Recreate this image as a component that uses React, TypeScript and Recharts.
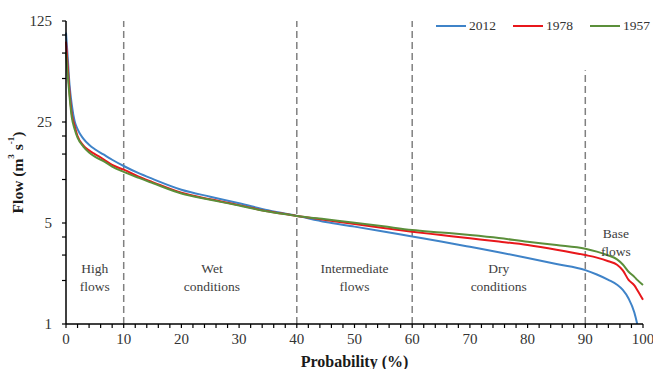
import React from "react";
import {
  LineChart,
  Line,
  XAxis,
  YAxis,
  ReferenceLine,
  ReferenceDot,
  Legend,
} from "recharts";

// exceedance probability (%) for each sampled point of the curves
const probability = [
  0, 0.3, 0.6, 1, 1.5, 2, 3, 4, 5, 6.5, 8, 10, 12.5, 15, 20, 25, 30, 35, 40, 45,
  50, 55, 60, 65, 70, 75, 80, 85, 90, 92, 94, 95.5, 96.5, 97.5, 98.5, 99, 100,
];

// flow (m3/s) for each year
const flow2012 = [
  104, 70, 46, 33, 25.3, 22.3, 19.2, 17.4, 16.2, 14.9, 13.7, 12.4, 11.1, 10.1,
  8.5, 7.6, 6.85, 6.12, 5.6, 5.08, 4.72, 4.37, 4.03, 3.72, 3.42, 3.14, 2.86, 2.6,
  2.36, 2.2, 2.02, 1.87, 1.72, 1.5, 1.2, 1.0, null,
];
const flow1978 = [
  90, 60, 41, 28.5, 23.5, 20, 17.2, 15.9, 15.0, 13.8, 12.6, 11.7, 10.5, 9.6, 8.1,
  7.3, 6.65, 6.02, 5.6, 5.25, 4.92, 4.62, 4.35, 4.13, 3.92, 3.72, 3.52, 3.27, 3.0,
  2.88, 2.72, 2.57, 2.35, 2.02, 1.85, 1.72, 1.47,
];
const flow1957 = [
  76, 53, 38, 27, 22.3, 19.5, 16.9, 15.4, 14.4, 13.4, 12.3, 11.3, 10.3, 9.45, 8.0,
  7.25, 6.6, 6.0, 5.6, 5.3, 5.02, 4.74, 4.47, 4.3, 4.13, 3.94, 3.71, 3.52, 3.32,
  3.17, 2.98, 2.8, 2.58, 2.3, 2.12, 2.02, 1.86,
];

const seriesOrder = ["2012", "1978", "1957"];

const xTicks = [
  0, 2, 4, 6, 8, 10, 12, 14, 16, 18, 20, 22, 24, 26, 28, 30, 32, 34, 36, 38, 40,
  42, 44, 46, 48, 50, 52, 54, 56, 58, 60, 62, 64, 66, 68, 70, 72, 74, 76, 78, 80,
  82, 84, 86, 88, 90, 92, 94, 96, 98, 100,
];
const yTicks = [1, 2, 3, 4, 5, 10, 15, 20, 25, 50, 75, 100, 125];
const yLabelled = [1, 5, 25, 125];

// flow regimes: label lines and where they sit on the plot
const regimes = [
  { lines: ["High", "flows"], x: 5, y: 2.11 },
  { lines: ["Wet", "conditions"], x: 25.3, y: 2.11 },
  { lines: ["Intermediate", "flows"], x: 50, y: 2.11 },
  { lines: ["Dry", "conditions"], x: 75, y: 2.11 },
  { lines: ["Base", "flows"], x: 95.3, y: 3.7 },
];

const data = probability.map((p, i) => ({
  p,
  y2012: flow2012[i],
  y1978: flow1978[i],
  y1957: flow1957[i],
}));

const FONT = '"Liberation Serif", "DejaVu Serif", serif';

function RegimeLabel(props: any) {
  const { cx, cy, lines } = props;
  return (
    <text x={cx} y={cy} textAnchor="middle" fontSize={13.5} fill="#404040">
      {lines.map((l: string, i: number) => (
        <tspan key={i} x={cx} dy={i === 0 ? -4 : 18}>
          {l}
        </tspan>
      ))}
    </text>
  );
}

function FlowTitle(props: any) {
  const vb = props.viewBox;
  const cx = vb.x + 17;
  const cy = vb.y + vb.height / 2;
  return (
    <text
      x={cx}
      y={cy}
      transform={`rotate(-90, ${cx}, ${cy})`}
      textAnchor="middle"
      dominantBaseline="central"
      fontWeight="bold"
      fontSize={15.5}
      fill="#1a1a1a"
    >
      Flow (m
      <tspan fontSize={9} dy={-6}>3</tspan>
      <tspan dy={6}> s</tspan>
      <tspan fontSize={9} dy={-6}>-1</tspan>
      <tspan dy={6}>)</tspan>
    </text>
  );
}

function LegendRow(props: any) {
  const items = [...(props.payload || [])].sort(
    (a: any, b: any) =>
      seriesOrder.indexOf(String(a.value)) - seriesOrder.indexOf(String(b.value))
  );
  return (
    <div style={{ display: "flex", alignItems: "center", fontFamily: FONT }}>
      {items.map((item: any) => (
        <div
          key={item.value}
          style={{ display: "flex", alignItems: "center", marginRight: 17 }}
        >
          <div style={{ width: 30, height: 2, background: item.color }} />
          <span style={{ marginLeft: 3, fontSize: 13.5, color: "#333" }}>
            {item.value}
          </span>
        </div>
      ))}
    </div>
  );
}

export default function App() {
  const tickStyle = { fontSize: 15, fill: "#333" };
  return (
    <div style={{ width: 653, height: 369, background: "#fff", fontFamily: FONT }}>
      <style>{`body { margin: 0; } svg text { font-family: ${FONT} !important; }`}</style>
      <LineChart
        width={653}
        height={369}
        data={data}
        margin={{ top: 21, right: 10, left: 0, bottom: 0 }}
      >
        <XAxis
          dataKey="p"
          type="number"
          domain={[0, 100]}
          ticks={xTicks}
          interval={0}
          tickFormatter={(v: number) => (v % 10 === 0 ? String(v) : "")}
          tick={tickStyle}
          tickSize={4}
          tickMargin={5}
          height={45}
          axisLine={{ stroke: "#000", strokeWidth: 1.5 }}
          tickLine={{ stroke: "#000", strokeWidth: 1.2 }}
          label={{
            value: "Probability (%)",
            position: "insideBottom",
            offset: 2,
            style: { fontWeight: "bold", fontSize: 16, fill: "#1a1a1a" },
          }}
        />
        <YAxis
          scale="log"
          domain={[1, 125]}
          ticks={yTicks}
          interval={0}
          allowDataOverflow
          tickFormatter={(v: number) => (yLabelled.includes(v) ? String(v) : "")}
          tick={tickStyle}
          tickSize={4}
          tickMargin={10}
          width={66}
          axisLine={{ stroke: "#000", strokeWidth: 1.5 }}
          tickLine={{ stroke: "#000", strokeWidth: 1.2 }}
          label={(p: any) => <FlowTitle {...p} />}
        />
        <ReferenceLine x={10} stroke="#808080" strokeWidth={1.5} strokeDasharray="7 4" />
        <ReferenceLine x={40} stroke="#808080" strokeWidth={1.5} strokeDasharray="7 4" />
        <ReferenceLine x={60} stroke="#808080" strokeWidth={1.5} strokeDasharray="7 4" />
        <ReferenceLine
          segment={[
            { x: 90, y: 1 },
            { x: 90, y: 57 },
          ]}
          stroke="#808080"
          strokeWidth={1.5}
          strokeDasharray="7 4"
        />
        {regimes.map((r) => (
          <ReferenceDot
            key={r.lines.join(" ")}
            x={r.x}
            y={r.y}
            r={0}
            shape={(p: any) => <RegimeLabel {...p} lines={r.lines} />}
          />
        ))}
        <Legend
          verticalAlign="middle"
          align="center"
          layout="horizontal"
          wrapperStyle={{ top: 18, left: 436, width: "auto" }}
          content={(p: any) => <LegendRow {...p} />}
        />
        <Line
          type="monotone"
          dataKey="y2012"
          name="2012"
          stroke="#3f83c8"
          strokeWidth={2}
          dot={false}
          isAnimationActive={false}
        />
        <Line
          type="monotone"
          dataKey="y1978"
          name="1978"
          stroke="#e8171b"
          strokeWidth={2}
          dot={false}
          isAnimationActive={false}
        />
        <Line
          type="monotone"
          dataKey="y1957"
          name="1957"
          stroke="#5b8f3a"
          strokeWidth={2}
          dot={false}
          isAnimationActive={false}
        />
      </LineChart>
    </div>
  );
}
